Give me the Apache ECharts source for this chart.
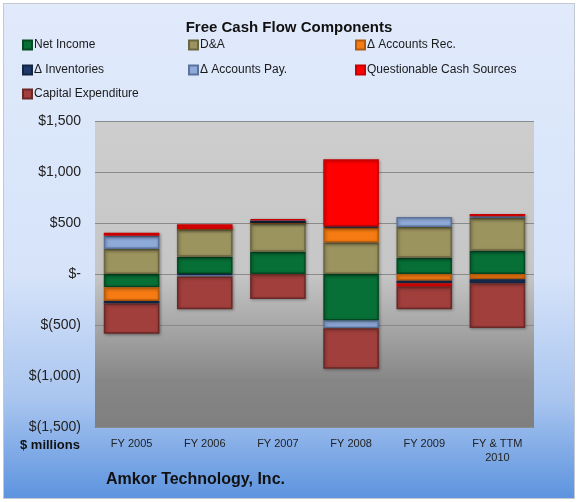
<!DOCTYPE html>
<html>
<head>
<meta charset="utf-8">
<script src="https://cdn.jsdelivr.net/npm/echarts@6/dist/echarts.min.js"></script>
<style>
  html, body { margin: 0; padding: 0; width: 578px; height: 502px; background: #fff; }
  #chart {
    position: absolute; left: 3px; top: 3px; width: 570px; height: 494px;
    border: 1px solid #c4c8d0;
    background: linear-gradient(to bottom, #e0eafb 0%, #d6e3f9 55%, #a9c5ef 80%, #5d94df 100%);
  }
</style>
</head>
<body>
<div id="chart"></div>
<script>
  // categories and tick values
  const years = ['FY 2005', 'FY 2006', 'FY 2007', 'FY 2008', 'FY 2009', 'FY & TTM\n2010'];
  const yTicks = [-1500, -1000, -500, 0, 500, 1000, 1500];

  // components, $ millions
  const netIncome    = [-130, 170, 218, -456, 159, 228];
  const dAndA        = [245, 270, 283, 309, 303, 322];
  const accountsRec  = [-135, 0, 0, 146, -65, -52];
  const inventories  = [-25, -10, 25, 10, -26, -39];
  const accountsPay  = [130, -15, 0, -75, 98, 16];
  const questionable = [30, 48, 10, 661, -33, 23];
  const capex        = [-295, -320, -244, -397, -221, -439];

  const names = ['Net Income', 'D&A', '\u0394 Accounts Rec.', '\u0394 Inventories',
    '\u0394 Accounts Pay.', 'Questionable Cash Sources', 'Capital Expenditure'];
  const values = [netIncome, dAndA, accountsRec, inventories, accountsPay, questionable, capex];
  const fills = ['#077036', '#9c945f', '#f57b12', '#1f3a68', '#8eaad9', '#ff0000', '#a13f3c'];
  const edges = ['#044a23', '#6b6641', '#b45a0c', '#122542', '#5a729c', '#c80000', '#6a2826'];

  const chart = echarts.init(document.getElementById('chart'));

  const font = 'Liberation Sans, Arial, sans-serif';

  // legend laid out in 3 columns
  const colX = [18, 184, 351];
  const rowY = [35, 60, 84];
  const legends = names.map((n, i) => ({
    data: [{ name: n, icon: 'rect' }],
    left: colX[i % 3],
    top: rowY[Math.floor(i / 3)],
    itemWidth: 9,
    itemHeight: 9,
    itemGap: 0,
    padding: 0,
    selectedMode: false,
    textStyle: { fontFamily: font, fontSize: 12, color: '#1a1a1a', padding: [0, 0, 0, -3] }
  }));

  const money = v => {
    if (v === 0) return '$-';
    const s = Math.abs(v).toLocaleString('en-US');
    return v < 0 ? '$(' + s + ')' : '$' + s;
  };

  const option = {
    animation: false,
    title: {
      text: 'Free Cash Flow Components',
      left: 'center',
      top: 11,
      textStyle: { fontFamily: font, fontSize: 15, fontWeight: 'bold', color: '#111' }
    },
    legend: legends,
    graphic: [
      { type: 'text', left: 16, top: 435,
        style: { text: '$ millions', font: 'bold 13px ' + font, fill: '#111' } },
      { type: 'text', left: 102, top: 468,
        style: { text: 'Amkor Technology, Inc.', font: 'bold 16px ' + font, fill: '#111' } }
    ],
    grid: {
      left: 91, right: 40, top: 117, bottom: 71,
      show: true,
      borderWidth: 0,
      backgroundColor: {
        type: 'linear', x: 0, y: 0, x2: 0, y2: 1,
        colorStops: [
          { offset: 0, color: '#cdcdcd' },
          { offset: 0.5, color: '#c6c6c6' },
          { offset: 0.85, color: '#868686' },
          { offset: 1, color: '#7f7f7f' }
        ]
      }
    },
    xAxis: [
      {
        type: 'category',
        data: years,
        position: 'bottom',
        axisLine: { show: false },
        axisTick: { show: false },
        axisLabel: { fontFamily: font, fontSize: 11, color: '#222', margin: 10, lineHeight: 14 }
      },
      {
        type: 'category',
        data: years,
        position: 'bottom',
        axisLine: { onZero: true, lineStyle: { color: '#8a8a8a', width: 1 } },
        axisTick: { inside: true, length: 4, lineStyle: { color: '#8a8a8a' } },
        axisLabel: { show: false }
      }
    ],
    yAxis: {
      type: 'value',
      min: yTicks[0],
      max: yTicks[yTicks.length - 1],
      interval: 500,
      axisLine: { show: false },
      axisTick: { show: false },
      axisLabel: { fontFamily: font, fontSize: 14, color: '#222', margin: 14, formatter: money },
      splitLine: { lineStyle: { color: '#8a8a8a', width: 1 } }
    },
    series: names.map((n, i) => ({
      name: n,
      type: 'bar',
      stack: 'fcf',
      barWidth: '76%',
      data: values[i],
      itemStyle: {
        color: fills[i],
        borderColor: edges[i],
        borderWidth: 1.5,
        shadowColor: 'rgba(0,0,0,0.35)',
        shadowBlur: 3,
        shadowOffsetX: 1,
        shadowOffsetY: 1
      }
    }))
  };

  chart.setOption(option);
  window.addEventListener('resize', chart.resize);
</script>
</body>
</html>
